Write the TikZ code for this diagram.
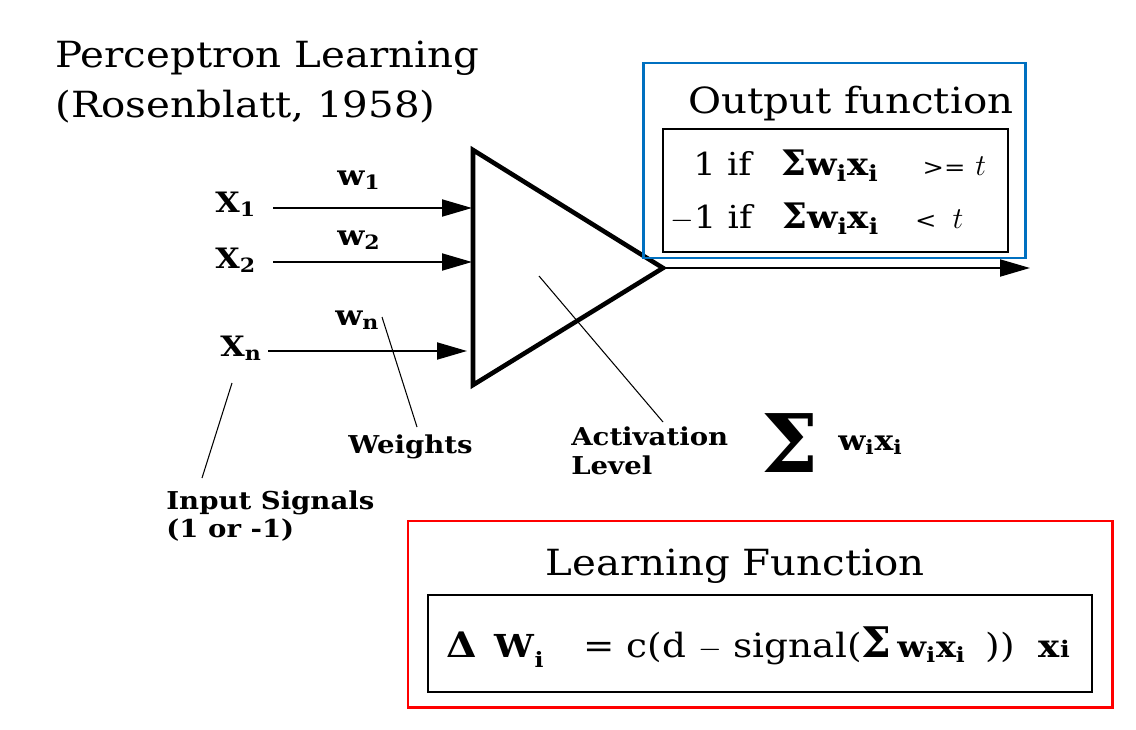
\documentclass[tikz,border=0pt]{standalone}
\usepackage{fontspec}
\setmainfont[FakeStretch=1.12]{DejaVu Serif}
\newfontfamily\plainserif{DejaVu Serif}
\usetikzlibrary{arrows.meta}
\definecolor{boxblue}{RGB}{0,112,192}
\definecolor{boxred}{RGB}{255,0,0}
\newdimen\pxunit \pxunit=0.569pt
\newcommand{\gap}[1]{\hspace{#1\pxunit}}
\newcommand{\bsub}[1]{\textsubscript{\bfseries #1}}
\begin{document}
\begin{tikzpicture}[x=0.02cm, y=-0.02cm]
        % Stijlen
        \tikzstyle{arrow} = [line width=1.1pt, -{Triangle[length=6mm,width=3.4mm]}]
        \tikzstyle{leader} = [line width=0.6pt]
        \tikzstyle{lbl} = [font=\fontsize{14}{15.5}\selectfont\bfseries, inner sep=0pt]
        \tikzstyle{sym} = [font=\fontsize{16}{18}\selectfont\bfseries, inner sep=0pt, anchor=base west]
        \tikzstyle{title} = [font=\fontsize{20.5}{24}\selectfont, inner sep=0pt, anchor=base west]
        \tikzstyle{formula} = [font=\fontsize{18}{20}\selectfont, inner sep=0pt, anchor=base west]
        \useasboundingbox (0,0) rectangle (1136,730);

        % Titel
        \node (title1) [title] at (55,67) {Perceptron Learning};
        \node (title2) [title] at (55,117) {(Rosenblatt, 1958)};

        % Driehoek
        \coordinate (top) at (473,150);
        \coordinate (bot) at (473,385);
        \coordinate (apex) at (663,268);
        \draw [line width=2.6pt] (top) -- (apex) -- (bot) -- cycle;

        % Ingangen
        \node (x1) [sym] at (215,212) {X\bsub{1}};
        \node (x2) [sym] at (215,268) {X\bsub{2}};
        \node (xn) [sym] at (220,356) {X\bsub{n}};
        \coordinate (s1) at (273,208);
        \coordinate (s2) at (273,262);
        \coordinate (sn) at (268,351);
        \coordinate (e1) at (472,208);
        \coordinate (e2) at (472,262);
        \coordinate (en) at (467,351);
        \draw [arrow] (s1) -- (e1);
        \draw [arrow] (s2) -- (e2);
        \draw [arrow] (sn) -- (en);

        % Gewichten
        \node (w1) [sym] at (337,185) {w\bsub{1}};
        \node (w2) [sym] at (337,245) {w\bsub{2}};
        \node (wn) [sym] at (335,325) {w\bsub{n}};

        % Uitgang
        \coordinate (out) at (1030,268);
        \draw [arrow] (apex) -- (out);

        % Verklarende labels
        \node (weights) [lbl, anchor=base west] at (348,453) {Weights};
        \coordinate (wtop) at (382,317);
        \coordinate (wlow) at (417,427);
        \draw [leader] (wtop) -- (wlow);

        \node (insig) [lbl, anchor=base west, align=left] at (166,537) {Input Signals\\(1 or -1)};
        \coordinate (xlow) at (232,383);
        \coordinate (ilow) at (202,478);
        \draw [leader] (xlow) -- (ilow);

        \node (act) [lbl, font=\fontsize{14}{16.5}\selectfont\bfseries, anchor=base west, align=left] at (571,474) {Activation\\Level};
        \coordinate (atop) at (539,276);
        \coordinate (alow) at (663,422);
        \draw [leader] (atop) -- (alow);

        \node (bigsum) [inner sep=0pt, anchor=base west, font=\fontsize{46}{46}\selectfont\plainserif\bfseries] at (761,472) {Σ};
        \node (wixi) [sym] at (838,450) {w\bsub{i}x\bsub{i}};

        % Output function
        \draw [boxblue, line width=1.7pt] (643,63) rectangle (1025,258);
        \draw [line width=1.1pt] (663,129) rectangle (1008,252);
        \node (outtitle) [title] at (688,113) {Output function};
        \node (line1) [formula] at (693,175) {1 if\gap{30}{\plainserif\bfseries\fontsize{20}{20}\selectfont Σ}{\bfseries w\bsub{i}x\bsub{i}}\gap{44}{\fontsize{13}{14}\selectfont >=}\gap{10}$t$};
        \node (line2) [formula] at (670,228) {$-$1 if\gap{30}{\plainserif\bfseries\fontsize{20}{20}\selectfont Σ}{\bfseries w\bsub{i}x\bsub{i}}\gap{36}{\fontsize{13}{14}\selectfont <}\gap{16}$t$};

        % Learning function
        \draw [boxred, line width=1.7pt] (408,521) rectangle (1112,707);
        \draw [line width=1.1pt] (428,595) rectangle (1092,692);
        \node (lrntitle) [title] at (545,575) {Learning Function};
        \node (rule) [formula, font=\fontsize{19}{20}\selectfont] at (446,657) {{\bfseries\fontsize{20}{20}\selectfont Δ}\gap{18}{\bfseries\fontsize{18}{20}\selectfont W}\raisebox{-10\pxunit}{\bfseries\fontsize{12}{12}\selectfont i}\gap{40}= c(d $-$ signal({\plainserif\bfseries\fontsize{24}{20}\selectfont Σ}\gap{6}{\bfseries\fontsize{17}{18}\selectfont w\bsub{i}x\bsub{i}}\gap{20}))\gap{24}{\bfseries\fontsize{18}{18}\selectfont x{\fontsize{13}{13}\selectfont i}}};

\end{tikzpicture}
\end{document}
